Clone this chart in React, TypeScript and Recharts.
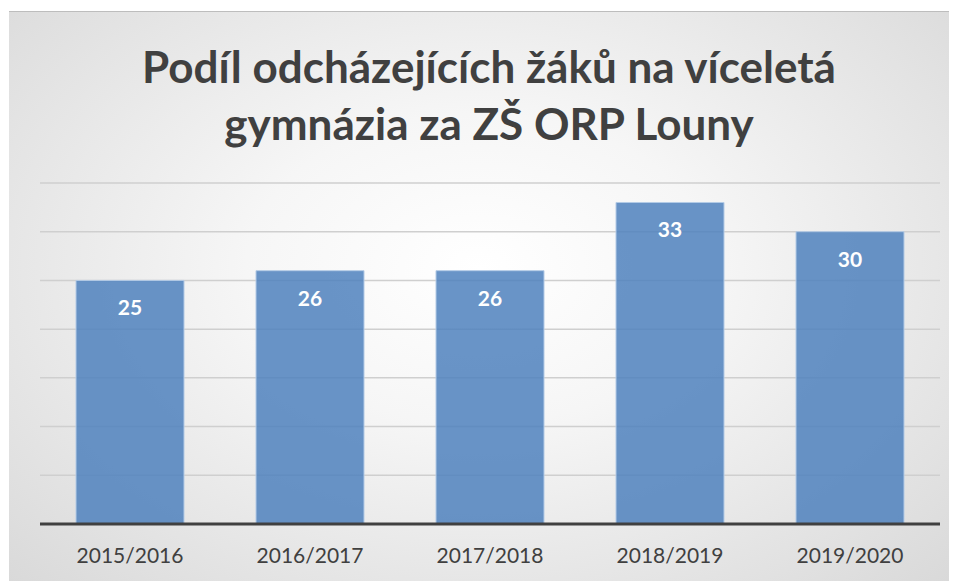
import React from 'react';
import { BarChart, Bar, XAxis, YAxis, CartesianGrid, LabelList } from 'recharts';

const years = ['2015/2016', '2016/2017', '2017/2018', '2018/2019', '2019/2020'];
const shares = [25, 26, 26, 33, 30];
const yTicks = [0, 5, 10, 15, 20, 25, 30, 35];

const data = years.map((name, i) => ({ name, value: shares[i] }));

const FONT = 'Lato, "Open Sans", sans-serif';

const App: React.FC = () => {
  return (
    <div style={{ position: 'absolute', left: 0, top: 0, width: 958, height: 581, background: '#fff', fontFamily: FONT }}>
      <div
        style={{
          position: 'absolute',
          left: 9,
          top: 11,
          width: 940,
          height: 570,
          borderTop: '1px solid #bdbdbd',
          background: 'radial-gradient(ellipse at 50% 45%, #ffffff 0%, #f6f6f6 35%, #d9d9d9 100%)',
        }}
      />
      <div
        style={{
          position: 'absolute',
          left: 10,
          top: 38,
          width: 958,
          textAlign: 'center',
          fontSize: 44,
          fontWeight: 700,
          lineHeight: '57px',
          color: '#404040',
        }}
      >
        Podíl odcházejících žáků na víceletá
        <br />
        gymnázia za ZŠ ORP Louny
      </div>
      <div style={{ position: 'absolute', left: 0, top: 0 }}>
        <BarChart
          width={958}
          height={581}
          data={data}
          margin={{ top: 183, right: 18, bottom: 0, left: 40 }}
          barCategoryGap="20%"
        >
          <CartesianGrid vertical={false} stroke="#cfcfcf" strokeWidth={1.5} />
          <XAxis
            dataKey="name"
            height={57}
            tickLine={false}
            axisLine={{ stroke: '#404040', strokeWidth: 3 }}
            tick={{ fill: '#404040', fontSize: 21, fontFamily: FONT }}
            tickMargin={18}
          />
          <YAxis hide domain={[0, 35]} ticks={yTicks} />
          <Bar
            dataKey="value"
            fill="#4f81bd"
            fillOpacity={0.85}
            stroke="#b4cbe6"
            strokeWidth={1}
            isAnimationActive={false}
          >
            <LabelList
              dataKey="value"
              position="insideTop"
              offset={20}
              fill="#ffffff"
              fontSize={21}
              fontWeight={700}
              fontFamily={FONT}
            />
          </Bar>
        </BarChart>
      </div>
    </div>
  );
};

export default App;
